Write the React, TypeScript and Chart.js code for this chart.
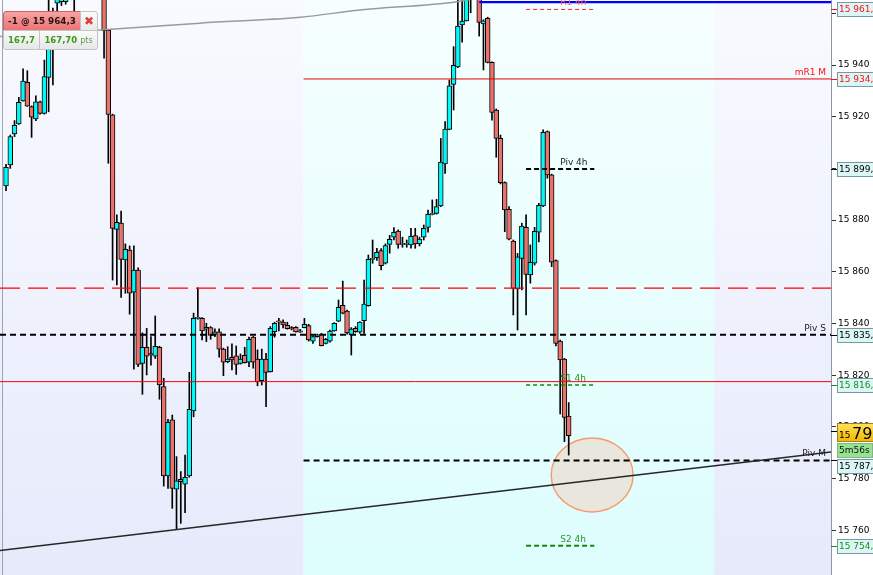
import React, { useEffect, useRef } from 'react';
import { Chart, registerables } from 'chart.js';

Chart.register(...registerables);

// ---- candle data (5-minute candles, index 0 = first visible candle) ----
const OPEN = [
  15893.2, 15901.3, 15913.3, 15917.2, 15926.1, 15933.3, 15923.9, 15919.1, 15925.8, 15921.3,
  15935.2, 15950.0, 15963.9, 15964.5, 15964.5, 15976.0, 15985.0, 15975.0, 15980.0, 15990.0,
  15984.0, 15988.0, 15980.0, 15968.0, 15953.5, 15920.7, 15876.4, 15878.8, 15864.6, 15868.4,
  15852.1, 15860.7, 15824.6, 15830.8, 15828.4, 15827.4, 15830.8, 15815.6, 15781.0, 15802.7,
  15775.9, 15779.7, 15777.8, 15781.0, 15806.2, 15842.0, 15842.0, 15837.8, 15838.4, 15835.8,
  15836.8, 15830.1, 15825.2, 15826.9, 15827.5, 15824.6, 15827.7, 15825.0, 15834.7, 15826.2,
  15817.9, 15826.2, 15821.4, 15836.8, 15841.0, 15840.5, 15839.3, 15838.4, 15838.5, 15836.6,
  15838.4, 15839.2, 15833.2, 15834.9, 15835.8, 15832.3, 15833.2, 15837.1, 15840.9, 15847.0,
  15844.8, 15835.6, 15838.1, 15836.6, 15841.1, 15846.9, 15864.8, 15865.5, 15868.2, 15863.3,
  15870.6, 15873.4, 15875.8, 15871.0, 15870.6, 15870.4, 15874.0, 15870.9, 15873.4, 15877.2,
  15882.2, 15882.6, 15885.5, 15901.7, 15915.1, 15932.5, 15939.3, 15955.5, 15957.1, 15968.0,
  15974.0, 15969.0, 15955.9, 15958.1, 15941.0, 15922.6, 15911.6, 15894.5, 15884.2, 15871.9,
  15853.4, 15865.2, 15877.2, 15858.8, 15863.3, 15875.3, 15885.5, 15914.2, 15897.5, 15864.3,
  15833.2, 15826.2, 15804.2,
];
const HIGH = [
  15901.6, 15912.9, 15918.5, 15927.5, 15938.5, 15937.8, 15924.2, 15928.1, 15926.0, 15941.9,
  15966.0, 15962.0, 15975.0, 15982.0, 15984.0, 15990.0, 15992.0, 15986.0, 15995.0, 15998.0,
  15994.0, 15993.0, 15985.0, 15972.0, 15953.8, 15921.0, 15882.0, 15883.5, 15870.8, 15870.0,
  15870.0, 15861.5, 15836.4, 15838.1, 15834.9, 15842.9, 15831.2, 15818.8, 15802.9, 15804.6,
  15788.5, 15782.7, 15789.1, 15821.1, 15844.0, 15853.8, 15842.3, 15840.1, 15838.8, 15837.9,
  15837.9, 15830.5, 15831.0, 15832.1, 15831.3, 15828.2, 15830.8, 15834.7, 15835.0, 15829.8,
  15830.1, 15828.5, 15838.8, 15840.5, 15842.0, 15841.4, 15840.5, 15838.8, 15838.8, 15837.7,
  15842.0, 15839.7, 15835.2, 15835.9, 15836.2, 15834.2, 15837.5, 15840.3, 15849.1, 15856.4,
  15845.2, 15838.4, 15838.8, 15840.7, 15856.8, 15866.5, 15872.3, 15869.1, 15869.0, 15870.8,
  15874.1, 15877.1, 15876.2, 15873.4, 15872.3, 15876.8, 15876.8, 15873.4, 15878.1, 15883.9,
  15887.8, 15888.0, 15911.6, 15918.1, 15934.2, 15947.1, 15966.0, 15967.0, 15971.0, 15977.0,
  15978.0, 15972.0, 15957.5, 15958.5, 15941.2, 15923.0, 15912.9, 15894.8, 15885.2, 15872.3,
  15867.1, 15878.8, 15882.0, 15870.4, 15877.2, 15886.5, 15914.9, 15914.5, 15897.8, 15864.6,
  15833.6, 15826.5, 15809.4,
];
const LOW = [
  15891.4, 15900.0, 15912.3, 15917.0, 15926.0, 15924.0, 15912.0, 15918.5, 15921.0, 15921.0,
  15921.9, 15932.3, 15961.0, 15963.0, 15963.5, 15970.0, 15960.0, 15968.0, 15975.0, 15978.0,
  15977.0, 15972.0, 15968.0, 15942.6, 15902.0, 15856.8, 15854.9, 15850.1, 15851.7, 15843.6,
  15822.3, 15823.3, 15812.6, 15820.1, 15823.9, 15826.5, 15810.7, 15777.1, 15776.2, 15768.5,
  15760.4, 15762.7, 15766.8, 15780.5, 15803.9, 15841.7, 15833.6, 15833.0, 15833.9, 15834.9,
  15827.0, 15819.8, 15824.8, 15822.0, 15820.3, 15824.3, 15824.7, 15823.3, 15822.7, 15815.9,
  15816.2, 15807.8, 15821.2, 15834.7, 15837.1, 15838.3, 15837.8, 15837.5, 15836.6, 15836.5,
  15838.3, 15833.2, 15832.3, 15834.7, 15831.3, 15832.1, 15832.8, 15837.0, 15840.7, 15843.7,
  15835.9, 15827.8, 15836.6, 15836.2, 15836.2, 15846.7, 15863.3, 15864.4, 15860.7, 15863.0,
  15867.2, 15872.3, 15869.1, 15869.5, 15869.5, 15869.1, 15869.1, 15870.0, 15872.3, 15875.3,
  15882.0, 15882.3, 15885.2, 15898.1, 15915.0, 15922.6, 15939.0, 15948.8, 15957.0, 15960.2,
  15966.5, 15951.2, 15938.1, 15940.8, 15918.7, 15904.3, 15894.0, 15875.5, 15872.3, 15843.3,
  15837.5, 15853.0, 15843.3, 15855.6, 15862.6, 15871.6, 15885.2, 15896.2, 15862.0, 15831.3,
  15805.0, 15794.3, 15789.1,
];
const CLOSE = [
  15900.4, 15912.3, 15916.7, 15925.6, 15933.8, 15924.1, 15919.8, 15925.8, 15921.3, 15935.5,
  15950.0, 15958.0, 15972.0, 15978.0, 15976.0, 15985.0, 15975.0, 15980.0, 15990.0, 15984.0,
  15988.0, 15980.0, 15975.0, 15953.3, 15920.9, 15876.8, 15879.1, 15864.8, 15868.7, 15851.7,
  15860.7, 15824.2, 15830.8, 15827.4, 15827.8, 15831.2, 15816.2, 15781.0, 15801.8, 15776.2,
  15779.1, 15778.8, 15780.5, 15806.8, 15842.0, 15842.4, 15837.1, 15838.5, 15835.4, 15836.8,
  15830.1, 15825.0, 15826.2, 15825.9, 15824.2, 15826.2, 15824.8, 15833.9, 15825.0, 15817.5,
  15826.2, 15821.1, 15838.1, 15840.1, 15840.5, 15839.4, 15838.0, 15837.9, 15836.7, 15837.2,
  15839.7, 15833.6, 15834.9, 15835.6, 15831.4, 15833.9, 15837.1, 15840.1, 15846.3, 15844.0,
  15836.4, 15837.8, 15836.8, 15840.5, 15847.5, 15864.8, 15865.2, 15867.5, 15862.4, 15870.1,
  15872.6, 15875.3, 15870.6, 15870.6, 15871.0, 15873.7, 15870.8, 15872.7, 15876.8, 15882.2,
  15882.6, 15885.2, 15902.4, 15915.2, 15931.9, 15939.9, 15955.1, 15957.0, 15968.0, 15974.0,
  15970.0, 15956.5, 15957.1, 15941.0, 15921.7, 15911.6, 15894.5, 15883.9, 15872.6, 15853.6,
  15865.8, 15877.7, 15859.0, 15863.7, 15875.7, 15885.7, 15914.0, 15897.5, 15863.7, 15832.3,
  15825.9, 15803.7, 15796.6,
];

// ---- axes ----
const Y_TICKS = [15760, 15780, 15800, 15820, 15840, 15860, 15880, 15900, 15920, 15940, 15960];
const Y_MIN = 15742.7;
const Y_MAX = 15965.15;
const X_MIN = -1.41;
const X_MAX = 193.53;

// ---- sessions (candle index where shading changes) ----
const SESSION_BOUNDS = [69.8, 166.1];

// ---- levels ----
const POSITION_PRICE = 15964.3;
const POSITION_FROM = 111;
const MA_X = [-1.41, 22.05, 45.5, 68.97, 83.04, 105.8, 115];
const MA_Y = [15951.0, 15953.5, 15956.2, 15958.45, 15961.3, 15964.5, 15967.5];
const LEVEL_4H_NAMES = ['R1 4h', 'Piv 4h', 'S1 4h', 'S2 4h'];
const LEVEL_4H_VALUES = [15961.5, 15899.8, 15816.2, 15754.0];
const LEVEL_4H_RANGE = [122, 138];
const MR1_M = 15934.6;
const PIV_S = 15835.6;
const PIV_M = 15787.0;
const RED_DASH_LEVEL = 15853.7;
const RED_SOLID_LEVEL = 15817.5;
const TREND_X = [X_MIN, X_MAX];
const TREND_Y = [15752.2, 15790.3];
const MARK_CENTER = [137.5, 15781.4];
const MARK_RADIUS = [9.6, 14.3];
const QUOTE = 15798.6;
const COUNTDOWN = '5m56s';
const TAG_VALUES = [15961.5, 15934.6, 15899.8, 15835.6, 15816.2, 15787.0, 15754.0];

// ---- styles ----
const CYAN = '#00fafa';
const RED = '#e9736c';
const TAG_COLORS = ['#ff1010', '#ff1010', '#000000', '#000000', '#14901a', '#000000', '#14901a'];
const TAG_SHIFT = [0, 0, 0, 0, 0, 6, 0];
const LEVEL_4H_COLORS = ['#ff6a6a', '#222222', '#2a962a', '#2a962a'];
const FONT = '"DejaVu Sans", "Liberation Sans", sans-serif';

const fmtTick = (v: number) => {
  const s = Math.round(v).toString();
  return s.slice(0, 2) + ' ' + s.slice(2);
};
const fmtTag = (v: number) => {
  const s = v.toFixed(1).replace('.', ',');
  return s.slice(0, 2) + ' ' + s.slice(2);
};

const hline = (v: number, from = X_MIN, to = X_MAX) => [
  { x: from, y: v },
  { x: to, y: v },
];

const backgroundPlugin = {
  id: 'sessions',
  beforeDraw(chart: any) {
    const { ctx, chartArea, scales } = chart;
    const x = scales.x;
    const bounds = [X_MIN, ...SESSION_BOUNDS, X_MAX];
    ctx.save();
    for (let k = 0; k < bounds.length - 1; k++) {
      const x0 = Math.max(chartArea.left, x.getPixelForValue(bounds[k]));
      const x1 = Math.min(chartArea.right, x.getPixelForValue(bounds[k + 1]));
      const g = ctx.createLinearGradient(0, chartArea.top, 0, chartArea.bottom);
      if (k === 1) {
        g.addColorStop(0, '#f6ffff');
        g.addColorStop(1, '#ddfdfd');
      } else {
        g.addColorStop(0, '#f9faff');
        g.addColorStop(1, '#e6eafb');
      }
      ctx.fillStyle = g;
      ctx.fillRect(x0, chartArea.top, x1 - x0, chartArea.bottom - chartArea.top);
    }
    ctx.strokeStyle = '#9aa6b2';
    ctx.lineWidth = 1;
    ctx.beginPath();
    ctx.moveTo(chartArea.left + 2.5, chartArea.top);
    ctx.lineTo(chartArea.left + 2.5, chartArea.bottom);
    ctx.stroke();
    ctx.restore();
  },
};

const markPlugin = {
  id: 'mark',
  beforeDatasetsDraw(chart: any) {
    const { ctx, scales } = chart;
    const cx = scales.x.getPixelForValue(MARK_CENTER[0]);
    const cy = scales.y.getPixelForValue(MARK_CENTER[1]);
    const rx = Math.abs(scales.x.getPixelForValue(MARK_CENTER[0] + MARK_RADIUS[0]) - cx);
    const ry = Math.abs(scales.y.getPixelForValue(MARK_CENTER[1] + MARK_RADIUS[1]) - cy);
    ctx.save();
    ctx.beginPath();
    ctx.ellipse(cx, cy, rx, ry, 0, 0, Math.PI * 2);
    ctx.fillStyle = 'rgba(232,228,218,0.92)';
    ctx.fill();
    ctx.strokeStyle = '#f59a68';
    ctx.lineWidth = 1.4;
    ctx.stroke();
    ctx.restore();
  },
};

const labelPlugin = {
  id: 'levelLabels',
  afterDatasetsDraw(chart: any) {
    const { ctx, chartArea, scales } = chart;
    const x = scales.x;
    const y = scales.y;
    ctx.save();
    ctx.font = '9px ' + FONT;
    ctx.textBaseline = 'bottom';
    ctx.textAlign = 'left';
    const mid = (x.getPixelForValue(LEVEL_4H_RANGE[0]) + x.getPixelForValue(LEVEL_4H_RANGE[1])) / 2;
    LEVEL_4H_VALUES.forEach((v, k) => {
      ctx.fillStyle = LEVEL_4H_COLORS[k];
      ctx.fillText(LEVEL_4H_NAMES[k], mid, y.getPixelForValue(v) - 2);
    });
    ctx.textAlign = 'right';
    const rx = chartArea.right - 5;
    ctx.fillStyle = '#ff1010';
    ctx.fillText('mR1 M', rx, y.getPixelForValue(MR1_M) - 2);
    ctx.fillStyle = '#1a1a1a';
    ctx.fillText('Piv S', rx, y.getPixelForValue(PIV_S) - 2);
    ctx.fillText('Piv M', rx, y.getPixelForValue(PIV_M) - 2);
    ctx.restore();
  },
};

const tagPlugin = {
  id: 'axisTags',
  afterDraw(chart: any) {
    const { ctx, chartArea, scales } = chart;
    const y = scales.y;
    const left = chartArea.right + 6;
    ctx.save();
    ctx.font = '9px ' + FONT;
    ctx.textBaseline = 'middle';
    ctx.textAlign = 'left';
    TAG_VALUES.forEach((v, k) => {
      const py = Math.round(y.getPixelForValue(v));
      const top = py - 7 + TAG_SHIFT[k];
      ctx.strokeStyle = TAG_COLORS[k];
      ctx.lineWidth = 1;
      ctx.beginPath();
      ctx.moveTo(chartArea.right, py + 0.5);
      ctx.lineTo(chartArea.right + 6, py + 0.5);
      ctx.stroke();
      ctx.fillStyle = '#dcf6f6';
      ctx.fillRect(left, top, 50, 14);
      ctx.strokeStyle = '#7898a6';
      ctx.strokeRect(left + 0.5, top + 0.5, 50, 14);
      ctx.fillStyle = TAG_COLORS[k];
      ctx.fillText(fmtTag(v), left + 2, top + 7.5);
    });
    // current quote
    const qy = y.getPixelForValue(QUOTE);
    const qTop = Math.round(qy - 8);
    const g = ctx.createLinearGradient(0, qTop, 0, qTop + 18);
    g.addColorStop(0, '#ffe45a');
    g.addColorStop(1, '#f2b800');
    ctx.fillStyle = g;
    ctx.fillRect(left, qTop, 50, 18);
    ctx.strokeStyle = '#9c8030';
    ctx.strokeRect(left + 0.5, qTop + 0.5, 50, 18);
    const ly = Math.round(qy);
    ctx.strokeStyle = '#000';
    ctx.beginPath();
    ctx.moveTo(chartArea.right, ly + 0.5);
    ctx.lineTo(chartArea.right + 6, ly + 0.5);
    ctx.stroke();
    const qs = fmtTag(QUOTE);
    ctx.fillStyle = '#000';
    ctx.textBaseline = 'alphabetic';
    ctx.font = '9px ' + FONT;
    ctx.fillText(qs.slice(0, 2), left + 2, qTop + 15);
    ctx.font = '16px ' + FONT;
    ctx.fillText(qs.slice(3), left + 15, qTop + 15.5);
    // countdown
    const cTop = qTop + 20;
    ctx.fillStyle = '#93e391';
    ctx.fillRect(left, cTop, 35, 15);
    ctx.strokeStyle = '#86b486';
    ctx.strokeRect(left + 0.5, cTop + 0.5, 35, 14);
    ctx.fillStyle = '#111';
    ctx.font = '9px ' + FONT;
    ctx.textBaseline = 'middle';
    ctx.fillText(COUNTDOWN, left + 2, cTop + 8);
    ctx.restore();
  },
};

export default function App() {
  const ref = useRef<HTMLCanvasElement | null>(null);

  useEffect(() => {
    if (!ref.current) return;
    const idx = OPEN.map((_, i) => i);
    const bodies = idx.map((i) => ({ x: i, y: [OPEN[i], CLOSE[i]] }));
    const wicks = idx.map((i) => ({ x: i, y: [LOW[i], HIGH[i]] }));
    const bodyColors = idx.map((i) => (CLOSE[i] >= OPEN[i] ? CYAN : RED));
    const lineBase = { type: 'line', pointRadius: 0, fill: false, tension: 0, order: 0 };

    const chart = new Chart(ref.current, {
      type: 'bar',
      data: {
        datasets: [
          { ...lineBase, data: TREND_X.map((x, k) => ({ x, y: TREND_Y[k] })), borderColor: '#262626', borderWidth: 1.4 },
          { ...lineBase, data: hline(PIV_M, SESSION_BOUNDS[0]), borderColor: '#000', borderWidth: 2, borderDash: [6, 4] },
          { ...lineBase, data: hline(PIV_S), borderColor: '#000', borderWidth: 2, borderDash: [6, 4] },
          { ...lineBase, data: hline(RED_DASH_LEVEL), borderColor: '#ff0000', borderWidth: 1.2, borderDash: [20, 8] },
          { ...lineBase, data: hline(RED_SOLID_LEVEL), borderColor: '#ff0000', borderWidth: 1 },
          { ...lineBase, data: hline(MR1_M, SESSION_BOUNDS[0]), borderColor: '#e00000', borderWidth: 1 },
          { ...lineBase, data: hline(POSITION_PRICE, POSITION_FROM), borderColor: '#0000ff', borderWidth: 2.2 },
          { ...lineBase, data: hline(LEVEL_4H_VALUES[0], LEVEL_4H_RANGE[0], LEVEL_4H_RANGE[1]), borderColor: '#ff2020', borderWidth: 1, borderDash: [4, 3] },
          { ...lineBase, data: hline(LEVEL_4H_VALUES[1], LEVEL_4H_RANGE[0], LEVEL_4H_RANGE[1]), borderColor: '#000', borderWidth: 2, borderDash: [5, 3] },
          { ...lineBase, data: hline(LEVEL_4H_VALUES[2], LEVEL_4H_RANGE[0], LEVEL_4H_RANGE[1]), borderColor: '#108a10', borderWidth: 1.3, borderDash: [4, 3] },
          { ...lineBase, data: hline(LEVEL_4H_VALUES[3], LEVEL_4H_RANGE[0], LEVEL_4H_RANGE[1]), borderColor: '#108a10', borderWidth: 2, borderDash: [5, 3] },
          { ...lineBase, data: MA_X.map((x, k) => ({ x, y: MA_Y[k] })), borderColor: '#9a9a9a', borderWidth: 1.5, tension: 0.4, cubicInterpolationMode: 'monotone' },
          {
            type: 'bar',
            data: bodies,
            backgroundColor: bodyColors,
            borderColor: '#000',
            borderWidth: 1,
            borderSkipped: false,
            barThickness: 4.8,
            grouped: false,
            order: 1,
          },
          {
            type: 'bar',
            data: wicks,
            backgroundColor: '#000',
            borderWidth: 0,
            barThickness: 1,
            grouped: false,
            order: 2,
          },
        ] as any,
      },
      options: {
        animation: false,
        responsive: false,
        maintainAspectRatio: false,
        events: [],
        layout: { padding: 0 },
        plugins: { legend: { display: false }, tooltip: { enabled: false } },
        scales: {
          x: { type: 'linear', min: X_MIN, max: X_MAX, display: false, offset: false },
          y: {
            type: 'linear',
            position: 'right',
            min: Y_MIN,
            max: Y_MAX,
            afterFit: (s: any) => {
              s.width = 42;
              s.paddingTop = 0;
              s.paddingBottom = 0;
            },
            afterBuildTicks: (s: any) => {
              s.ticks = Y_TICKS.map((value) => ({ value }));
            },
            grid: { drawOnChartArea: false, drawTicks: true, tickLength: 5, color: '#333' },
            border: { display: true, color: '#8a96a2' },
            ticks: {
              autoSkip: false,
              padding: 2,
              color: '#000',
              font: { family: FONT, size: 9 },
              callback: (v: any) => fmtTick(Number(v)),
            },
          },
        },
      } as any,
      plugins: [backgroundPlugin, markPlugin, labelPlugin, tagPlugin],
    });
    return () => chart.destroy();
  }, []);

  const boxBase: React.CSSProperties = {
    position: 'absolute',
    boxSizing: 'border-box',
    display: 'flex',
    alignItems: 'center',
    justifyContent: 'center',
    fontFamily: FONT,
  };

  return (
    <div style={{ position: 'fixed', left: 0, top: 0, width: 873, height: 575, background: '#fff', overflow: 'hidden' }}>
      <canvas ref={ref} width={873} height={575} style={{ display: 'block' }} />
      <div
        style={{
          ...boxBase,
          left: 3,
          top: 11,
          width: 78,
          height: 20,
          background: 'linear-gradient(#f7a3a3, #ec7474)',
          border: '1px solid #d06060',
          borderTopLeftRadius: 3,
          color: '#2a1212',
          fontWeight: 'bold',
          fontSize: 8.8,
        }}
      >
        -1 @ 15 964,3
      </div>
      <div
        style={{
          ...boxBase,
          left: 80,
          top: 11,
          width: 18,
          height: 20,
          background: 'linear-gradient(#fbfbfb, #e9e9e9)',
          border: '1px solid #c4c4c4',
          borderTopRightRadius: 3,
          color: '#e03a3a',
          fontSize: 12,
          fontWeight: 'bold',
        }}
      >
        ✖
      </div>
      <div
        style={{
          ...boxBase,
          left: 3,
          top: 30,
          width: 37,
          height: 20,
          background: 'linear-gradient(#fafafa, #e7e7e7)',
          border: '1px solid #c4c4c4',
          borderBottomLeftRadius: 3,
          color: '#3c9a1c',
          fontWeight: 'bold',
          fontSize: 8.5,
        }}
      >
        167,7
      </div>
      <div
        style={{
          ...boxBase,
          left: 39,
          top: 30,
          width: 59,
          height: 20,
          background: 'linear-gradient(#fafafa, #e7e7e7)',
          border: '1px solid #c4c4c4',
          borderBottomRightRadius: 3,
          color: '#3c9a1c',
          fontWeight: 'bold',
          fontSize: 8.5,
        }}
      >
        167,70<span style={{ fontWeight: 'normal', fontSize: 8, color: '#5f9a4a', marginLeft: 3 }}>pts</span>
      </div>
    </div>
  );
}
